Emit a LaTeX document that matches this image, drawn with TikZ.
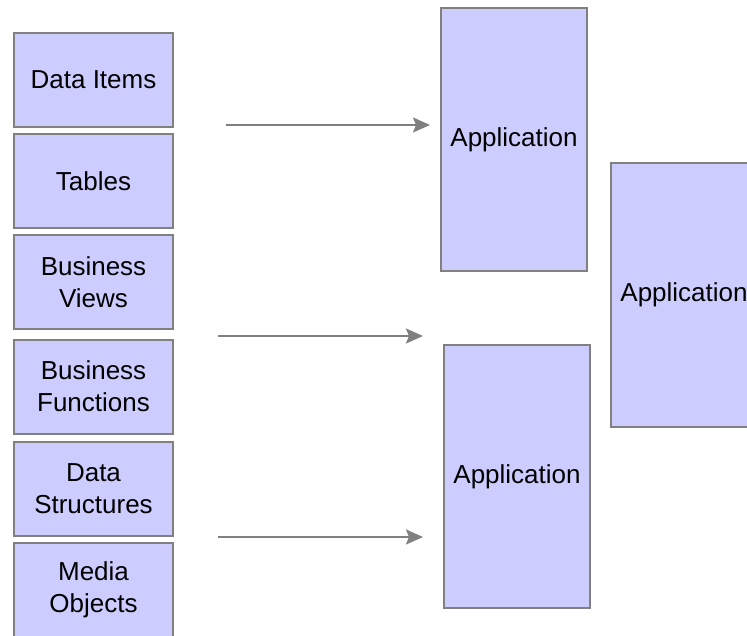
\documentclass[tikz,border=0pt]{standalone}
\usepackage{fontspec}
\setmainfont{Liberation Sans}
\usetikzlibrary{arrows.meta}
\definecolor{boxfill}{RGB}{204,204,255}
\definecolor{boxline}{RGB}{128,128,128}
\tikzset{
    objbox/.style={draw=boxline, fill=boxfill, line width=1pt, text=black,
        minimum width=79.5pt, minimum height=47pt, inner sep=0pt, align=center,
        font=\fontsize{13}{16}\selectfont},
    appbox/.style={objbox, minimum width=73pt, minimum height=131.5pt},
    flow/.style={draw=boxline, line width=1pt, -{Stealth[length=8.5pt,width=7.5pt,inset=1.5pt]}}
}

\begin{document}
\begin{tikzpicture}[x=0.5pt,y=-0.5pt]
        \useasboundingbox (0,0) rectangle (747,635);
        \clip (0,0) rectangle (747,635);
        \node[objbox] (items) at (93.5,80) {Data Items};
        \node[objbox] (tables) at (93.5,181) {Tables};
        \node[objbox] (views) at (93.5,282) {Business\\Views};
        \node[objbox] (functions) at (93.5,386.5) {Business\\Functions};
        \node[objbox] (structures) at (93.5,488.5) {Data\\Structures};
        \node[objbox] (media) at (93.5,590) {Media\\Objects};
        \node[appbox] (apptop) at (514,139.5) {Application};
        \node[appbox] (appbottom) at (517,476.5) {Application};
        \node[appbox] (appright) at (684,295) {Application};
        \coordinate (in1) at (226,125);
        \coordinate (out1) at (430,125);
        \coordinate (in2) at (218,336);
        \coordinate (out2) at (423,336);
        \coordinate (in3) at (218,537);
        \coordinate (out3) at (423,537);
        \draw[flow] (in1) -- (out1);
        \draw[flow] (in2) -- (out2);
        \draw[flow] (in3) -- (out3);
    \end{tikzpicture}
\end{document}
